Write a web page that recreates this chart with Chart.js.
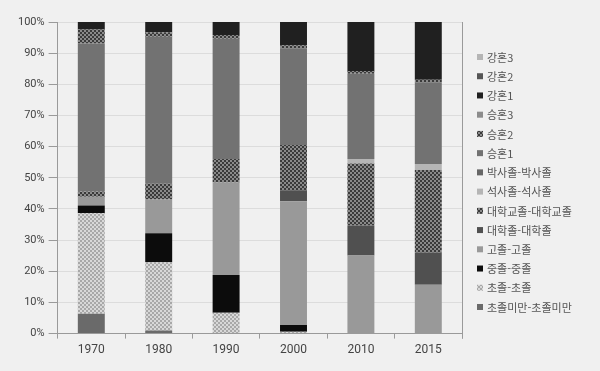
<!DOCTYPE html>
<html lang="ko">
<head>
<meta charset="utf-8">
<title>혼인 유형 구성비</title>
<script src="https://cdn.jsdelivr.net/npm/chart.js@4.4.1/dist/chart.umd.min.js"></script>
<style>
    html, body { margin: 0; padding: 0; background: #f0f0f0; }
    .chart-wrap { position: relative; width: 600px; height: 371px; }
</style>
</head>
<body>
<div class="chart-wrap"><canvas id="marriageChart"></canvas></div>
<script>
// === DATA ===
const years = ['1970', '1980', '1990', '2000', '2010', '2015'];
const yTicks = ['0%', '10%', '20%', '30%', '40%', '50%', '60%', '70%', '80%', '90%', '100%'];

const seriesNames = [
    '초졸미만-초졸미만', '초졸-초졸', '중졸-중졸', '고졸-고졸', '대학졸-대학졸',
    '대학교졸-대학교졸', '석사졸-석사졸', '박사졸-박사졸',
    '승혼1', '승혼2', '승혼3', '강혼1', '강혼2', '강혼3'
];

const belowElem  = [6.4, 1.0, 0, 0, 0, 0];
const elem       = [32.3, 21.9, 6.7, 0.6, 0, 0];
const middle     = [2.4, 9.3, 12.1, 2.2, 0, 0];
const high       = [2.8, 10.8, 29.7, 39.7, 25.1, 15.7];
const college    = [0, 0, 0, 3.5, 9.6, 10.3];
const univ       = [1.7, 5.1, 7.5, 14.5, 19.9, 26.5];
const master     = [0, 0, 0, 0, 1.4, 1.9];
const doctor     = [0, 0, 0, 0, 0, 0];
const up1        = [47.5, 47.2, 38.6, 31.1, 27.4, 26.3];
const up2        = [4.5, 1.4, 1.2, 0.9, 0.9, 0.8];
const up3        = [0, 0, 0, 0, 0, 0];
const down1      = [2.4, 3.3, 4.2, 7.5, 15.7, 18.5];
const down2      = [0, 0, 0, 0, 0, 0];
const down3      = [0, 0, 0, 0, 0, 0];

document.addEventListener('DOMContentLoaded', function() {
    // small checker tile used for the hatched series
    function checker(c1, c2) {
        const tile = document.createElement('canvas');
        tile.width = 4;
        tile.height = 4;
        const ctx = tile.getContext('2d');
        ctx.fillStyle = c1;
        ctx.fillRect(0, 0, 4, 4);
        ctx.fillStyle = c2;
        ctx.fillRect(0, 0, 2, 2);
        ctx.fillRect(2, 2, 2, 2);
        return ctx.createPattern(tile, 'repeat');
    }

    const darkHatch = checker('#8a8a8a', '#3a3a3a');
    const lightHatch = checker('#d8d8d8', '#a8a8a8');

    const seriesValues = [belowElem, elem, middle, high, college, univ, master, doctor,
                          up1, up2, up3, down1, down2, down3];
    const colors = ['#6a6a6a', lightHatch, '#0c0c0c', '#999999', '#505050',
                    darkHatch, '#b5b5b5', '#666666',
                    '#727272', darkHatch, '#8c8c8c', '#202020', '#555555', '#b5b5b5'];

    const datasets = seriesNames.map(function(name, i) {
        return {
            label: name,
            data: seriesValues[i],
            backgroundColor: colors[i],
            borderWidth: 0,
            barPercentage: 0.4,
            categoryPercentage: 1.0
        };
    });

    const krFont = '"Noto Sans CJK KR", "Noto Sans", sans-serif';
    const numFont = 'Roboto, "Noto Sans", sans-serif';

    // right frame line + legend list drawn beside the plot (top item = last dataset)
    const sideLegend = {
        id: 'sideLegend',
        afterDraw: function(chart) {
            const a = chart.chartArea;
            const c = chart.ctx;
            c.save();
            c.strokeStyle = '#9a9a9a';
            c.lineWidth = 1;
            c.beginPath();
            c.moveTo(a.right + 0.5, a.top);
            c.lineTo(a.right + 0.5, a.bottom + 5);
            c.stroke();

            const sets = chart.data.datasets.slice().reverse();
            const x = a.right + 15;
            let y = 57;
            c.font = '11px ' + krFont;
            c.textBaseline = 'middle';
            sets.forEach(function(ds) {
                c.fillStyle = ds.backgroundColor;
                c.fillRect(x, y - 3, 6, 6);
                c.fillStyle = '#555555';
                c.fillText(ds.label, x + 10, y + 0.5);
                y += 19.23;
            });
            c.restore();
        }
    };

    new Chart(document.getElementById('marriageChart'), {
        type: 'bar',
        data: { labels: years, datasets: datasets },
        plugins: [sideLegend],
        options: {
            responsive: true,
            maintainAspectRatio: false,
            animation: false,
            layout: { padding: { top: 22, left: 14, right: 138, bottom: 10 } },
            plugins: {
                tooltip: { enabled: false },
                legend: { display: false }
            },
            scales: {
                x: {
                    stacked: true,
                    grid: {
                        offset: true,
                        drawOnChartArea: false,
                        tickLength: 5,
                        color: '#9a9a9a'
                    },
                    border: { color: '#9a9a9a' },
                    ticks: {
                        color: '#444444',
                        padding: 4,
                        font: { family: numFont, size: 12 }
                    }
                },
                y: {
                    stacked: true,
                    min: 0,
                    max: 100,
                    grid: {
                        color: '#dcdcdc',
                        tickLength: 9,
                        tickColor: '#9a9a9a'
                    },
                    border: { color: '#9a9a9a' },
                    ticks: {
                        stepSize: 10,
                        color: '#444444',
                        padding: 4,
                        font: { family: numFont, size: 11 },
                        callback: function(value, index) {
                            return yTicks[index];
                        }
                    }
                }
            }
        }
    });
});
</script>
</body>
</html>
